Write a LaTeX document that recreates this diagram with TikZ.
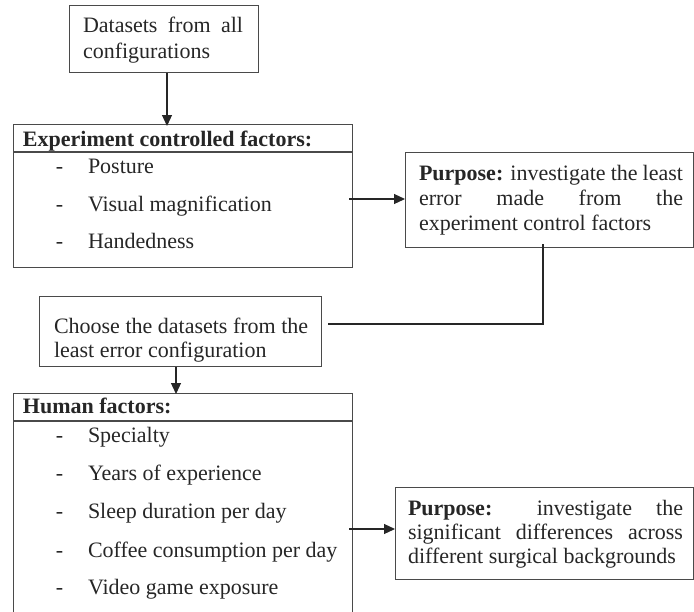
\documentclass[tikz,border=0pt]{standalone}
\usepackage{fontspec}
\setmainfont{Liberation Serif}
\usetikzlibrary{arrows.meta}
\definecolor{edge}{HTML}{4A4A4A}
\begin{document}
\begin{tikzpicture}[x=1pt,y=-1pt,
  box/.style={draw=edge, line width=1.2pt, rectangle, inner sep=0pt, anchor=north west},
  txt/.style={anchor=base west, inner sep=0pt, outer sep=0pt,
    font=\fontsize{22}{25}\selectfont, text=black!85},
  arr/.style={draw=black!85, line width=1.2pt, -{Triangle[length=11pt,width=10pt]}},
  link/.style={draw=black!85, line width=1.2pt}]
\useasboundingbox (0,0) rectangle (694,611);
\clip (0,0) rectangle (694,611);

% ---- boxes ----
\node[box, minimum width=189pt, minimum height=67pt] (data) at (69,5) {};
\node[box, minimum width=339pt, minimum height=143pt] (exp) at (13,124) {};
\node[box, minimum width=288pt, minimum height=95pt] (p1) at (405,152) {};
\node[box, minimum width=282pt, minimum height=70pt] (choose) at (39,296) {};
\node[box, minimum width=339pt, minimum height=230pt] (human) at (13,393) {};
\node[box, minimum width=298pt, minimum height=92pt] (p2) at (395,487) {};

% header separators
\draw[link, draw=edge] (13,152) -- (352,152);
\draw[link, draw=edge] (13,421) -- (352,421);

% ---- texts ----
\node[txt] (t1a) at (83,32) {\makebox[160pt][s]{Datasets from all}};
\node[txt] (t1b) at (83,58) {configurations};

\node[txt] (h1) at (23,146) {\textbf{Experiment controlled factors:}};
\foreach \y/\s [count=\i] in {173/Posture, 211/Visual magnification, 248/Handedness}{
  \node[txt] (ed\i) at (56,\y) {-};
  \node[txt] (ei\i) at (88,\y) {\s};
}

\node[txt] (p1a) at (419,180) {\makebox[264pt][s]{\textbf{Purpose:} investigate the least}};
\node[txt] (p1b) at (419,205) {\makebox[264pt][s]{error made from the}};
\node[txt] (p1c) at (419,230) {experiment control factors};

\node[txt] (ca) at (54,333) {Choose the datasets from the};
\node[txt] (cb) at (54,357) {least error configuration};

\node[txt] (h2) at (23,413) {\textbf{Human factors:}};
\foreach \y/\s [count=\i] in {442/Specialty, 480/Years of experience, 518/Sleep duration per day, 557/Coffee consumption per day, 594/Video game exposure}{
  \node[txt] (hd\i) at (56,\y) {-};
  \node[txt] (hi\i) at (88,\y) {\s};
}

\node[txt] (p2a) at (408,515) {\makebox[275pt][s]{\textbf{Purpose:} investigate the}};
\node[txt] (p2b) at (408,539) {\makebox[275pt][s]{significant differences across}};
\node[txt] (p2c) at (408,563) {different surgical backgrounds};

% ---- connectors ----
\coordinate (ax1) at (167,0);
\coordinate (ax2) at (176,0);
\coordinate (ay1) at (0,199);
\coordinate (ay2) at (0,529);
\coordinate (bx) at (543,0);
\coordinate (by) at (0,324);
\coordinate (bend) at (bx |- by);

\draw[arr] (ax1 |- data.south) -- ([yshift=-2pt]ax1 |- exp.north);
\draw[arr] ([xshift=-4pt]exp.east |- ay1) -- (p1.west |- ay1);
\draw[link] ([yshift=4pt]bx |- p1.south) -- (bend) -- ([xshift=6pt]choose.east |- by);
\draw[arr] (ax2 |- choose.south) -- ([yshift=-1pt]ax2 |- human.north);
\draw[arr] ([xshift=-4pt]human.east |- ay2) -- (p2.west |- ay2);
\end{tikzpicture}
\end{document}
